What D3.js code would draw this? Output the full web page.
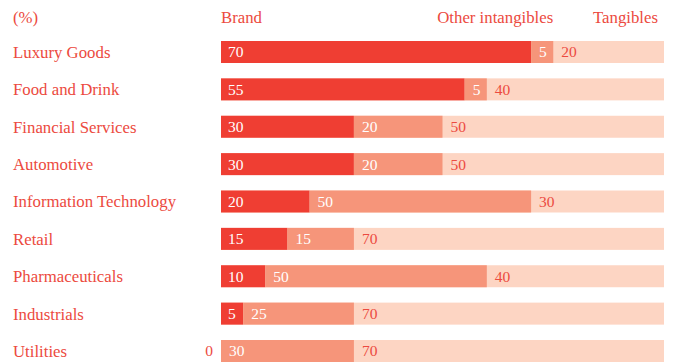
<!DOCTYPE html>
<html>
<head>
<meta charset="utf-8">
<script src="https://cdn.jsdelivr.net/npm/d3@7"></script>
<style>
  body { margin: 0; background: #fff; }
  svg { display: block; font-family: "Liberation Serif", "DejaVu Serif", serif; }
</style>
</head>
<body>
<svg id="chart"></svg>
<script>
const width = 675
const height = 362

const categories = ['Luxury Goods', 'Food and Drink', 'Financial Services', 'Automotive',
  'Information Technology', 'Retail', 'Pharmaceuticals', 'Industrials', 'Utilities']
const brand = [70, 55, 30, 30, 20, 15, 10, 5, 0]
const otherIntangibles = [5, 5, 20, 20, 50, 15, 50, 25, 30]
const tangibles = [20, 40, 50, 50, 30, 70, 40, 70, 70]
const headers = ['Brand', 'Other intangibles', 'Tangibles']

const red = '#ef3e33'
const mid = '#f6957a'
const light = '#fdd5c3'
const textRed = '#ec4a40'

const rows = categories.map((c, i) => ({
  cat: c, brand: brand[i], other: otherIntangibles[i], tang: tangibles[i]
}))

const svg = d3.select('#chart').attr('width', width).attr('height', height)

const x = d3.scaleLinear().domain([0, 100]).range([221, 664])
const y = d3.scalePoint().domain(categories).range([52, 351])
const barH = 22
const labelSize = 16.8

// header
svg.append('text').attr('x', 13).attr('y', 23).attr('fill', textRed)
  .attr('font-size', labelSize).text('(%)')
svg.append('text').attr('x', x(0)).attr('y', 23).attr('fill', textRed)
  .attr('font-size', labelSize).text(headers[0])
svg.append('text').attr('x', x(75)).attr('y', 23).attr('fill', textRed)
  .attr('text-anchor', 'end').attr('font-size', labelSize).text(headers[1])
svg.append('text').attr('x', x(100) - 6).attr('y', 23).attr('fill', textRed)
  .attr('text-anchor', 'end').attr('font-size', labelSize).text(headers[2])

const g = svg.append('g')

const row = g.selectAll('g.row').data(rows).enter().append('g')
  .attr('class', 'row')
  .attr('transform', d => `translate(0,${y(d.cat)})`)

row.append('text').attr('x', 13).attr('dy', '0.35em')
  .attr('fill', textRed).attr('font-size', labelSize).text(d => d.cat)

// tangibles track fills to 100
row.append('rect').attr('x', x(0)).attr('y', -barH / 2)
  .attr('width', x(100) - x(0)).attr('height', barH).attr('fill', light)

row.append('rect').attr('x', x(0)).attr('y', -barH / 2)
  .attr('width', d => x(d.brand) - x(0)).attr('height', barH).attr('fill', red)

row.append('rect').attr('x', d => x(d.brand)).attr('y', -barH / 2)
  .attr('width', d => x(d.brand + d.other) - x(d.brand)).attr('height', barH).attr('fill', mid)

row.append('text')
  .attr('x', d => d.brand > 0 ? x(0) + 7 : x(0) - 8)
  .attr('text-anchor', d => d.brand > 0 ? 'start' : 'end')
  .attr('dy', '0.35em').attr('font-size', 15.5)
  .attr('fill', d => d.brand > 0 ? '#fff' : textRed)
  .text(d => d.brand)

row.append('text')
  .attr('x', d => x(d.brand) + 8)
  .attr('dy', '0.35em').attr('font-size', 15.5).attr('fill', '#fff')
  .text(d => d.other)

row.append('text')
  .attr('x', d => x(d.brand + d.other) + 8)
  .attr('dy', '0.35em').attr('font-size', 15.5).attr('fill', textRed)
  .text(d => d.tang)
</script>
</body>
</html>
